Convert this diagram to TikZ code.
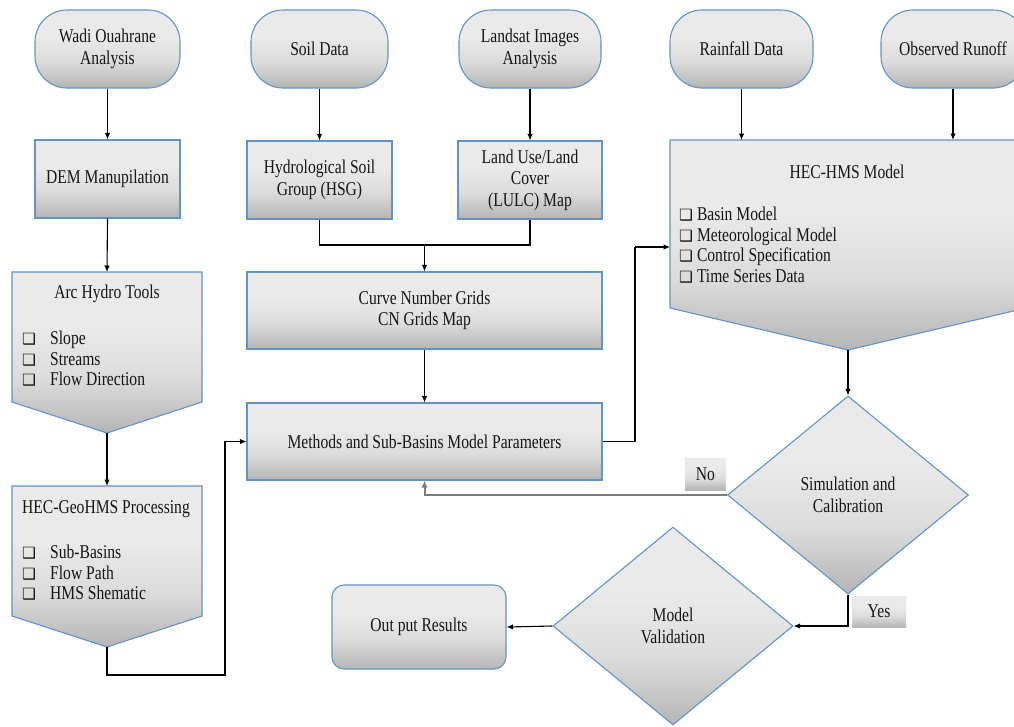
\documentclass[tikz,border=0pt]{standalone}
\usepackage{fontspec}
\setmainfont{Liberation Serif}[FakeStretch=0.8]
\newfontfamily\djv{DejaVu Sans}
\usetikzlibrary{arrows.meta,shapes.geometric}
\definecolor{slight}{HTML}{EAEAEA}
\definecolor{smid}{HTML}{DCDCDC}
\definecolor{sdark}{HTML}{B5B5B5}
\definecolor{bord}{RGB}{98,148,198}
\definecolor{txt}{HTML}{161616}
\definecolor{nogray}{HTML}{7A7A7A}
\pgfdeclareverticalshading{boxshade}{100bp}{color(0bp)=(sdark); color(25bp)=(sdark); color(42bp)=(smid); color(58bp)=(slight); color(100bp)=(slight)}
\newcommand{\bx}{{\djv\fontsize{15.5}{15.5}\selectfont ❑}}
\tikzset{
  shp/.style={draw=bord, line width=1.1pt, shading=boxshade},
  term/.style={shp, rectangle, rounded corners=32pt, inner sep=0pt, minimum width=145pt, minimum height=78pt, lbl},
  rbox/.style={shp, rectangle, inner sep=0pt, lbl},
  dia/.style={shp, diamond, inner sep=0pt, minimum width=241pt, minimum height=198pt, lbl},
  tag/.style={shading=boxshade, rectangle, inner sep=0pt, lbl},
  lbl/.style={align=center, text=txt, font=\fontsize{19.5}{21.5}\selectfont},
  lst/.style={align=left, text=txt, inner sep=0pt, font=\fontsize{19.5}{20.5}\selectfont},
  ln/.style={line width=1.1pt, draw=black},
  arr/.style={ln, -{Latex[length=6.5pt,width=5.5pt]}},
  noln/.style={line width=2pt, draw=nogray, -{Latex[length=7pt,width=6pt]}}
}
\begin{document}
\begin{tikzpicture}[x=1pt,y=-1pt]
\clip (0,0) rectangle (1014,726);
\fill[white] (0,0) rectangle (1014,726);

% top terminals
\node[term] (wadi) at (107.5,49) {Wadi Ouahrane\\Analysis};
\node[term, minimum width=137pt] (soil) at (319.5,49) {Soil Data};
\node[term, minimum width=142pt] (land) at (530,49) {Landsat Images\\Analysis};
\node[term, minimum width=143pt] (rain) at (741.5,49) {Rainfall Data};
\node[term, minimum width=144pt] (obs) at (953,49) {Observed Runoff};

% second row
\node[rbox, minimum width=145pt, minimum height=78pt] (dem) at (107.5,179) {DEM Manupilation};
\node[rbox, minimum width=145pt, minimum height=78pt] (hsg) at (319.5,180) {Hydrological Soil\\Group (HSG)};
\node[rbox, minimum width=144pt, minimum height=78pt] (lulc) at (530,180) {Land Use/Land\\Cover\\(LULC) Map};

% Arc Hydro Tools pentagon
\path[shp] (12,272) -- (202,272) -- (202,402) -- (107,433) -- (12,402) -- cycle;
\coordinate (arctop) at (107,272);
\coordinate (arctip) at (107,433);
\node[lbl] (arct) at (107,294) {Arc Hydro Tools};
\node[lst, anchor=west] (arcl) at (22,359) {\makebox[28pt][l]{\bx}Slope\\\makebox[28pt][l]{\bx}Streams\\\makebox[28pt][l]{\bx}Flow Direction};

% HEC-GeoHMS pentagon
\path[shp] (12,486) -- (202,486) -- (202,616) -- (107,647) -- (12,616) -- cycle;
\coordinate (geotop) at (107,486);
\coordinate (geotip) at (107,647);
\node[lbl] (geot) at (106,509) {HEC-GeoHMS Processing};
\node[lst, anchor=west] (geol) at (22,573) {\makebox[28pt][l]{\bx}Sub-Basins\\\makebox[28pt][l]{\bx}Flow Path\\\makebox[28pt][l]{\bx}HMS Shematic};

% Curve number, methods
\node[rbox, minimum width=355pt, minimum height=77pt] (cn) at (424.5,310.5) {Curve Number Grids\\CN Grids Map};
\node[rbox, minimum width=355pt, minimum height=77pt] (meth) at (424.5,441.5) {Methods and Sub-Basins Model Parameters};

% HEC-HMS pentagon
\path[shp] (670,140) -- (1026,140) -- (1026,308) -- (848,350) -- (670,308) -- cycle;
\coordinate (hmsa) at (741.5,140);
\coordinate (hmsb) at (953,140);
\coordinate (hmsin) at (670,247);
\coordinate (hmstip) at (848,350);
\node[lbl] (hmst) at (847,172) {HEC-HMS Model};
\node[lst, anchor=west] (hmsl) at (679,245) {\bx\ Basin Model\\\bx\ Meteorological Model\\\bx\ Control Specification\\\bx\ Time Series Data};

% decisions
\node[dia] (sim) at (848,495) {Simulation and\\Calibration};
\node[dia, minimum width=240pt] (val) at (673,626) {Model\\Validation};
\node[rbox, rounded corners=12pt, minimum width=174pt, minimum height=84pt] (out) at (419,627) {Out put Results};

% tags
\node[tag, minimum width=41pt, minimum height=32pt] (no) at (705.5,474) {No};
\node[tag, minimum width=54pt, minimum height=31pt] (yes) at (879,611.5) {Yes};

% connectors
\draw[arr] (wadi.south) -- (dem.north);
\draw[arr] (dem.south) -- (arctop);
\draw[arr] (arctip) -- (geotop);
\coordinate (c1) at (225,675);
\draw[arr] (geotip) |- (c1) |- (meth.west);
\draw[arr] (soil.south) -- (hsg.north);
\draw[arr] (land.south) -- (lulc.north);
\coordinate (jn) at (424.5,245);
\draw[ln] (hsg.south) -- (hsg.south |- jn) -- (lulc.south |- jn) -- (lulc.south);
\draw[arr] (jn) -- (cn.north);
\draw[arr] (cn.south) -- (meth.north);
\coordinate (c2) at (635,247);
\draw[ln] (meth.east) -| (c2);
\draw[arr] (c2) -- (hmsin);
\draw[arr] (rain.south) -- (hmsa);
\draw[arr] (obs.south) -- (hmsb);
\draw[arr] (hmstip) -- (sim.north);
\draw[noln] (sim.west) -| (meth.south);
\draw[arr] (sim.south) |- (val.east);
\draw[arr] (val.west) -- (out.east);
\end{tikzpicture}
\end{document}
